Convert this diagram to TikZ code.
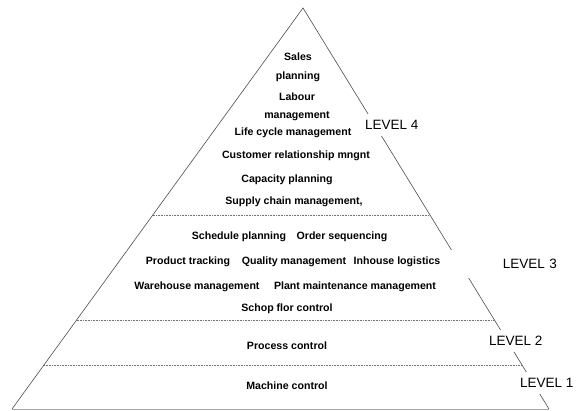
\documentclass[tikz,border=0pt]{standalone}
\usepackage{fontspec}
\setmainfont{Liberation Sans}
\usepackage{tikz}
\usetikzlibrary{calc}

\begin{document}
\begin{tikzpicture}[x=1pt,y=-1pt,
  item/.style={inner sep=0pt,font=\bfseries\fontsize{10.6}{12}\selectfont},
  levelbox/.style={fill=white,inner xsep=2pt,inner ysep=6pt,font=\fontsize{13.5}{16}\selectfont},
  side/.style={draw=black!70,line width=0.6pt},
  sep/.style={draw=black!55,line width=0.6pt,dash pattern=on 1pt off 0.6pt}]
\useasboundingbox (0,0) rectangle (580,410);
\coordinate (apex) at (303,8);
\coordinate (baseL) at (12,409);
\coordinate (baseR) at (549,409);
% pyramid outline
\draw [black!35,line width=0.6pt] (baseL) -- (baseR);
\draw [side] (baseL) -- (apex) -- (baseR);
% level borders
\coordinate (b34l) at ($(apex)!0.516!(baseL)$);
\coordinate (b34r) at ($(apex)!0.516!(baseR)$);
\coordinate (b23l) at ($(apex)!0.778!(baseL)$);
\coordinate (b23r) at ($(apex)!0.778!(baseR)$);
\coordinate (b12l) at ($(apex)!0.890!(baseL)$);
\coordinate (b12r) at ($(apex)!0.890!(baseR)$);
\draw [sep] (b34l) -- (b34r);
\draw [sep] (b23l) -- (b23r);
\draw [sep] (b12l) -- (b12r);
% level 4
\node [item] (sales) at (298,57) {Sales};
\node [item] (plan) at (298,77) {planning};
\node [item] (labour) at (297,97) {Labour};
\node [item] (mgmt) at (297,116) {management};
\node [item] (life) at (293,133) {Life cycle management};
\node [item] (crm) at (296,156) {Customer relationship mngnt};
\node [item] (capa) at (287,180) {Capacity planning};
\node [item] (scm) at (294,202) {Supply chain management,};
% level 3
\node [item] (sched) at (239,237) {Schedule planning};
\node [item] (order) at (342,237) {Order sequencing};
\node [item] (track) at (188,262) {Product tracking};
\node [item] (qual) at (294,262) {Quality management};
\node [item] (inhouse) at (397,262) {Inhouse logistics};
\node [item] (wareh) at (197,287) {Warehouse management};
\node [item] (plant) at (355,287) {Plant maintenance management};
\node [item] (shop) at (287,309) {Schop flor control};
% level 2 and 1
\node [item] (proc) at (287,346) {Process control};
\node [item] (mach) at (287,386) {Machine control};
% level labels
\node [levelbox,anchor=west] (lev4) at (363,125) {LEVEL 4};
\node [levelbox,anchor=east,inner ysep=9pt,text width=106pt,align=right] (lev3) at (559,264) {LEVEL 3};
\node [levelbox,anchor=west] (lev2) at (487,341) {LEVEL 2};
\node [levelbox,anchor=west] (lev1) at (518,383) {LEVEL 1};
\end{tikzpicture}
\end{document}
